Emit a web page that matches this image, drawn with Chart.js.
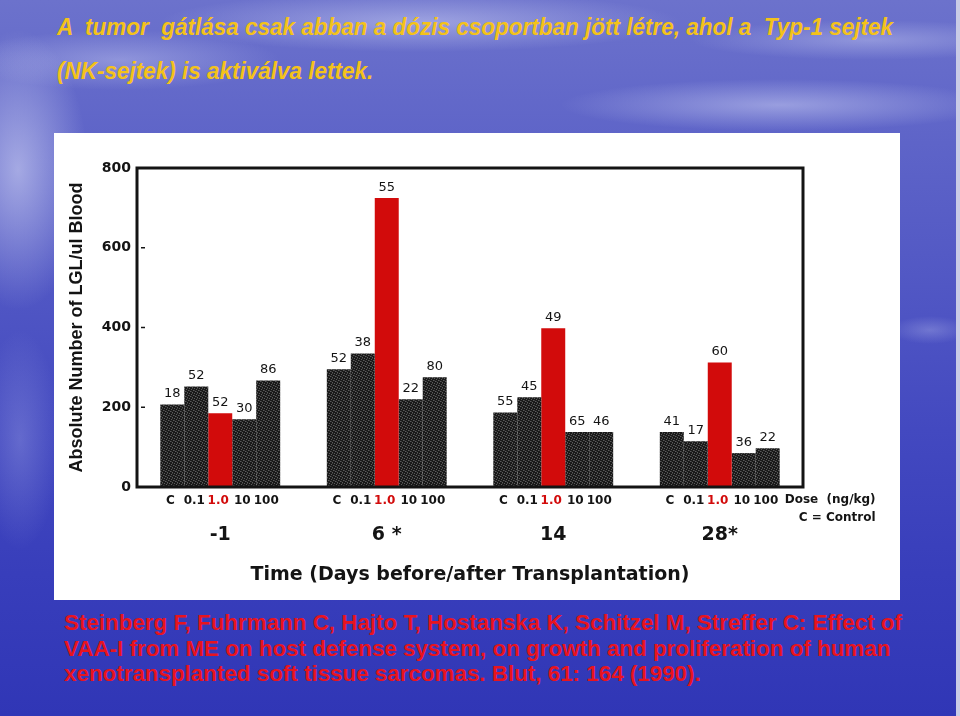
<!DOCTYPE html>
<html>
<head>
<meta charset="utf-8">
<script src="https://cdn.jsdelivr.net/npm/chart.js@4.4.1/dist/chart.umd.min.js"></script>
<style>
  html,body{margin:0;padding:0;}
  body{
    width:960px;height:716px;overflow:hidden;position:relative;
    background:
      radial-gradient(ellipse 70px 140px at 18px 170px, rgba(225,228,250,.55), rgba(225,228,250,0)),
      radial-gradient(ellipse 260px 30px at 420px 22px, rgba(220,224,250,.45), rgba(220,224,250,0)),
      radial-gradient(ellipse 220px 26px at 780px 105px, rgba(220,224,250,.45), rgba(220,224,250,0)),
      radial-gradient(ellipse 180px 20px at 870px 40px, rgba(220,224,250,.35), rgba(220,224,250,0)),
      radial-gradient(ellipse 160px 30px at 120px 60px, rgba(220,224,250,.35), rgba(220,224,250,0)),
      radial-gradient(ellipse 40px 14px at 930px 330px, rgba(220,224,250,.25), rgba(220,224,250,0)),
      radial-gradient(ellipse 40px 110px at 20px 440px, rgba(200,205,245,.25), rgba(200,205,245,0)),
      linear-gradient(180deg, #6c72cc 0%, #5e64c8 20%, #5157c4 40%, #4349c0 60%, #383ebb 80%, #3036b6 100%);
    font-family:"Liberation Sans", Arial, sans-serif;
  }
  .line{position:absolute;white-space:pre;transform-origin:0 50%;line-height:1;}
  .ttl{color:#f4c21a;font-weight:bold;font-style:italic;font-size:24px;font-family:"Liberation Sans Narrow","Liberation Sans",Arial,sans-serif;}
  .cit{color:#e8141e;font-weight:bold;font-size:22px;font-family:"Liberation Sans Narrow","Liberation Sans",Arial,sans-serif;}
  #panel{position:absolute;left:54px;top:133px;width:846px;height:467px;background:#fff;}
  #c{position:absolute;left:0;top:0;}
  #edge{position:absolute;left:956px;top:0;width:4px;height:716px;background:#c9cbe6;}
</style>
</head>
<body>
<div id="edge"></div>
<div class="line ttl" id="t1" style="left:57px;top:15px;">A  tumor  gátlása csak abban a dózis csoportban jött létre, ahol a  Typ-1 sejtek</div>
<div class="line ttl" id="t2" style="left:57px;top:59px;">(NK-sejtek) is aktiválva lettek.</div>
<div id="panel"><canvas id="c" width="846" height="467"></canvas></div>
<div class="line cit" id="c1" style="left:64px;top:612px;">Steinberg F, Fuhrmann C, Hajto T, Hostanska K, Schitzel M, Streffer C: Effect of</div>
<div class="line cit" id="c2" style="left:64px;top:638px;">VAA-I from ME on host defense system, on growth and proliferation of human</div>
<div class="line cit" id="c3" style="left:64px;top:663px;">xenotransplanted soft tissue sarcomas. Blut, 61: 164 (1990).</div>
<script>
// ---- data ----
const timeCategories = ['-1', '6 *', '14', '28*'];
const doseLabels = ['C', '0.1', '1.0', '10', '100'];
const valuesControl = [207, 295, 187, 138];
const valuesDose01  = [252, 335, 225, 115];
const valuesDose1   = [185, 725, 398, 312];
const valuesDose10  = [170, 220, 138, 85];
const valuesDose100 = [267, 275, 138, 97];
const countsControl = [18, 52, 55, 41];
const countsDose01  = [52, 38, 45, 17];
const countsDose1   = [52, 55, 49, 60];
const countsDose10  = [30, 22, 65, 36];
const countsDose100 = [86, 80, 46, 22];
const yTickValues = [0, 200, 400, 600, 800];

const seriesValues = [valuesControl, valuesDose01, valuesDose1, valuesDose10, valuesDose100];
const seriesCounts = [countsControl, countsDose01, countsDose1, countsDose10, countsDose100];

// ---- text fitting ----
function fit(el, w){ const r = el.getBoundingClientRect().width; el.style.transform = 'scaleX(' + (w / r) + ')'; return w / r; }
function fitLines(){
  const s1 = fit(document.getElementById('t1'), 836);
  document.getElementById('t2').style.transform = 'scaleX(' + s1 + ')';
  const s2 = fit(document.getElementById('c1'), 838);
  ['c2','c3'].forEach(id => document.getElementById(id).style.transform = 'scaleX(' + s2 + ')');
}

// ---- texture for dark bars ----
function darkPattern(){
  const p = document.createElement('canvas'); p.width = 5; p.height = 5;
  const g = p.getContext('2d');
  g.fillStyle = '#1a1a1a'; g.fillRect(0,0,5,5);
  g.fillStyle = '#5c5c5c';
  [[0,0],[2,1],[4,2],[1,3],[3,4]].forEach(([x,y]) => g.fillRect(x,y,1,1));
  g.fillStyle = '#3a3a3a';
  [[3,0],[0,2],[2,3]].forEach(([x,y]) => g.fillRect(x,y,1,1));
  return g.createPattern(p, 'repeat');
}

const RED = '#d20b0b';
const INK = '#141414';

const framePlugin = {
  id: 'frame',
  afterDatasetsDraw(chart){
    const {ctx, chartArea: a, scales: {y}} = chart;
    ctx.save();
    ctx.strokeStyle = INK; ctx.lineWidth = 3;
    ctx.strokeRect(a.left, a.top, a.right - a.left, a.bottom - a.top);
    ctx.lineWidth = 1.5;
    yTickValues.forEach(v => {
      if (v > 0 && v < 800) {
        const py = y.getPixelForValue(v);
        ctx.beginPath(); ctx.moveTo(a.left + 4, py); ctx.lineTo(a.left + 8, py); ctx.stroke();
      }
    });
    ctx.restore();
  }
};

const labelPlugin = {
  id: 'barLabels',
  afterDraw(chart){
    const {ctx, chartArea: a} = chart;
    ctx.save();
    // counts above bars
    ctx.font = '13px "DejaVu Sans", sans-serif';
    ctx.textAlign = 'center'; ctx.textBaseline = 'bottom'; ctx.fillStyle = INK;
    chart.data.datasets.forEach((ds, i) => {
      const meta = chart.getDatasetMeta(i);
      meta.data.forEach((bar, j) => {
        ctx.fillText(String(seriesCounts[i][j]), bar.x, bar.y - 4);
      });
    });
    // dose labels under bars
    ctx.font = 'bold 12px "DejaVu Sans", sans-serif';
    ctx.textBaseline = 'middle';
    chart.data.datasets.forEach((ds, i) => {
      const meta = chart.getDatasetMeta(i);
      meta.data.forEach(bar => {
        ctx.fillStyle = i === 2 ? RED : INK;
        ctx.fillText(doseLabels[i], bar.x - 2, a.bottom + 14);
      });
    });
    // dose legend text
    const lastMeta = chart.getDatasetMeta(4);
    const lb = lastMeta.data[lastMeta.data.length - 1];
    const x0 = lb.x + lb.width / 2 + 5;
    ctx.fillStyle = INK; ctx.textAlign = 'left';
    ctx.fillText('Dose  (ng/kg)', x0, a.bottom + 13);
    const w = ctx.measureText('Dose  (ng/kg)').width;
    ctx.textAlign = 'right';
    ctx.fillText('C = Control', x0 + w, a.bottom + 31);
    ctx.restore();
  }
};

function build(){
  fitLines();
  const pat = darkPattern();
  const datasets = seriesValues.map((vals, i) => ({
    label: doseLabels[i],
    data: vals,
    backgroundColor: i === 2 ? RED : pat,
    borderWidth: 0,
    categoryPercentage: 0.72,
    barPercentage: 1.0
  }));
  new Chart(document.getElementById('c'), {
    type: 'bar',
    data: { labels: timeCategories, datasets },
    options: {
      responsive: false,
      animation: false,
      devicePixelRatio: 1,
      layout: { padding: { top: 35, right: 97, left: 0, bottom: 0 } },
      plugins: { legend: { display: false }, tooltip: { enabled: false } },
      scales: {
        x: {
          grid: { display: false, drawTicks: false },
          border: { display: false },
          ticks: { color: INK, padding: 37, font: { family: '"DejaVu Sans", sans-serif', size: 19, weight: 'bold' } },
          title: { display: true, text: 'Time (Days before/after Transplantation)', color: INK,
                   font: { family: '"DejaVu Sans", sans-serif', size: 19, weight: 'bold' },
                   padding: { top: 0, bottom: 14 } },
          afterFit(s){ s.height = 113; }
        },
        y: {
          min: 0, max: 800,
          grid: { display: false, drawTicks: false },
          border: { display: false },
          afterBuildTicks(s){ s.ticks = yTickValues.map(v => ({ value: v })); },
          ticks: { color: INK, padding: 6, font: { family: '"DejaVu Sans", sans-serif', size: 14, weight: 'bold' } },
          title: { display: true, text: 'Absolute Number of LGL/ul Blood', color: INK,
                   font: { family: '"Liberation Sans", Arial, sans-serif', size: 18, weight: 'bold' },
                   padding: { top: 12, bottom: 0 } },
          afterFit(s){ s.width = 83; }
        }
      }
    },
    plugins: [framePlugin, labelPlugin]
  });
}
if (document.fonts && document.fonts.ready) { document.fonts.ready.then(build); } else { build(); }
</script>
</body>
</html>
